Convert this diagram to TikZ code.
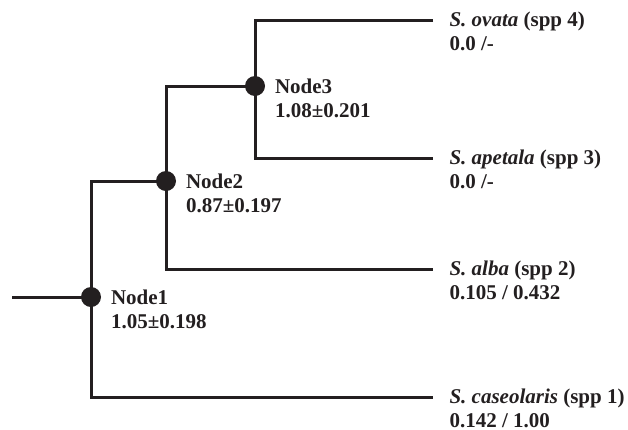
\documentclass[tikz,border=0pt]{standalone}
\usepackage{fontspec}
\setmainfont{Liberation Serif}
\usetikzlibrary{positioning}
\definecolor{ink}{RGB}{35,31,32}

\begin{document}
\begin{tikzpicture}[x=1pt, y=-1pt, draw=ink, line width=3pt,
        font=\fontsize{21}{24}\selectfont\bfseries,
        dot/.style={circle, fill=ink, minimum size=20pt, inner sep=0pt},
        lab/.style={align=left, inner sep=0pt, text=ink}]
    \useasboundingbox (0,0) rectangle (628,429);

    % Nodes
    \node (n1) [dot] at (91,297) {};
    \node (n2) [dot] at (166,181) {};
    \node (n3) [dot] at (255,86) {};

    % Tips
    \coordinate (root) at (12,297);
    \coordinate (s4) at (433,20);
    \coordinate (s3) at (433,158);
    \coordinate (s2) at (433,269);
    \coordinate (s1) at (433,397);

    % Branches
    \draw (root) -- (n1.center);
    \draw (n2.center) -| (n1.center) |- (s1);
    \draw (n3.center) -| (n2.center) |- (s2);
    \draw (s4) -| (n3.center) |- (s3);

    % Node labels
    \node[lab, right=7pt of n1, yshift=-12pt] (l1) {Node1\\1.05\textpm0.198};
    \node[lab, right=7pt of n2, yshift=-12pt] (l2) {Node2\\0.87\textpm0.197};
    \node[lab, right=7pt of n3, yshift=-12pt] (l3) {Node3\\1.08\textpm0.201};

    % Species
    \node[lab, right=15pt of s4, yshift=-11pt] (t4) {\textit{S. ovata} (spp 4)\\0.0 /-};
    \node[lab, right=15pt of s3, yshift=-11pt] (t3) {\textit{S. apetala} (spp 3)\\0.0 /-};
    \node[lab, right=15pt of s2, yshift=-11pt] (t2) {\textit{S. alba} (spp 2)\\0.105 / 0.432};
    \node[lab, right=15pt of s1, yshift=-11pt] (t1) {\textit{S. caseolaris} (spp 1)\\0.142 / 1.00};

\end{tikzpicture}
\end{document}
